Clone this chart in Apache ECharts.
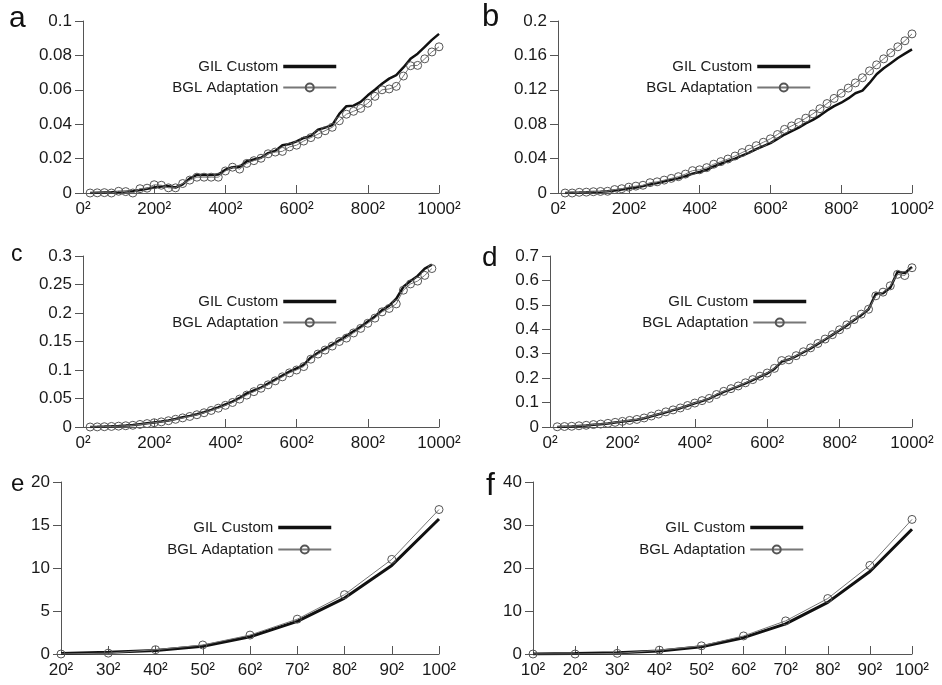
<!DOCTYPE html>
<html>
<head>
<meta charset="utf-8">
<script src="https://cdn.jsdelivr.net/npm/echarts@6/dist/echarts.min.js"></script>
<style>
html,body{margin:0;padding:0;background:#fff;}
#chart{width:942px;height:685px;}
</style>
</head>
<body>
<div id="chart"></div>
<script>
// ---- data ----
const seriesNames = ['GIL Custom', 'BGL Adaptation'];
const panelLetters = ['a', 'b', 'c', 'd', 'e', 'f'];

const sidesA = [20,40,60,80,100,120,140,160,180,200,220,240,260,280,300,320,340,360,380,400,420,440,460,480,500,520,540,560,580,600,620,640,660,680,700,720,740,760,780,800,820,840,860,880,900,920,940,960,980,1000];
const sidesB = sidesA;
const sidesC = [20,40,60,80,100,120,140,160,180,200,220,240,260,280,300,320,340,360,380,400,420,440,460,480,500,520,540,560,580,600,620,640,660,680,700,720,740,760,780,800,820,840,860,880,900,920,940,960,980];
const sidesD = sidesA;
const sidesE = [20,30,40,50,60,70,80,90,100];
const sidesF = [10,20,30,40,50,60,70,80,90,100];

const gilA = [0.0000,0.0002,0.0003,0.0004,0.0006,0.0008,0.0010,0.0018,0.0025,0.0032,0.0038,0.0040,0.0032,0.0050,0.0085,0.0105,0.0105,0.0105,0.0108,0.0135,0.0150,0.0153,0.0185,0.0195,0.0205,0.0232,0.0245,0.0278,0.0285,0.0300,0.0320,0.0332,0.0368,0.0380,0.0395,0.0460,0.0505,0.0508,0.0530,0.0568,0.0600,0.0635,0.0665,0.0685,0.0730,0.0780,0.0810,0.0850,0.0890,0.0925];
const bglA = [0.0000,0.0001,0.0002,0.0000,0.0010,0.0008,0.0000,0.0025,0.0028,0.0048,0.0045,0.0030,0.0030,0.0055,0.0075,0.0092,0.0092,0.0092,0.0092,0.0128,0.0150,0.0139,0.0172,0.0188,0.0202,0.0228,0.0238,0.0242,0.0268,0.0278,0.0302,0.0322,0.0342,0.0362,0.0382,0.0420,0.0458,0.0475,0.0492,0.0522,0.0562,0.0600,0.0605,0.0620,0.0680,0.0740,0.0742,0.0780,0.0820,0.0850];

const gilB = [0.0000,0.0003,0.0005,0.0008,0.0012,0.0015,0.0020,0.0030,0.0040,0.0055,0.0065,0.0080,0.0100,0.0115,0.0135,0.0155,0.0170,0.0195,0.0225,0.0245,0.0270,0.0310,0.0340,0.0370,0.0400,0.0435,0.0470,0.0510,0.0545,0.0580,0.0630,0.0680,0.0720,0.0760,0.0810,0.0850,0.0900,0.0960,0.1010,0.1050,0.1100,0.1160,0.1190,0.1280,0.1380,0.1450,0.1510,0.1570,0.1620,0.1670];
const bglB = [0.0000,0.0000,0.0008,0.0010,0.0015,0.0018,0.0020,0.0040,0.0050,0.0068,0.0080,0.0090,0.0120,0.0130,0.0150,0.0170,0.0190,0.0220,0.0260,0.0270,0.0295,0.0335,0.0365,0.0395,0.0430,0.0470,0.0510,0.0550,0.0590,0.0630,0.0680,0.0740,0.0780,0.0820,0.0870,0.0920,0.0980,0.1040,0.1100,0.1160,0.1220,0.1280,0.1340,0.1420,0.1490,0.1560,0.1630,0.1700,0.1770,0.1850];

const gilC = [0.0000,0.0003,0.0007,0.0012,0.0018,0.0025,0.0035,0.0050,0.0065,0.0080,0.0095,0.0115,0.0140,0.0170,0.0195,0.0225,0.0260,0.0300,0.0345,0.0395,0.0445,0.0510,0.0590,0.0640,0.0690,0.0760,0.0830,0.0900,0.0970,0.1030,0.1090,0.1220,0.1300,0.1370,0.1440,0.1520,0.1600,0.1680,0.1760,0.1850,0.1940,0.2050,0.2130,0.2250,0.2460,0.2560,0.2650,0.2780,0.2850];
const bglC = [0.0000,0.0002,0.0005,0.0010,0.0015,0.0022,0.0030,0.0045,0.0060,0.0075,0.0090,0.0110,0.0135,0.0160,0.0185,0.0215,0.0250,0.0290,0.0330,0.0380,0.0430,0.0490,0.0560,0.0620,0.0680,0.0740,0.0810,0.0880,0.0950,0.1000,0.1060,0.1190,0.1280,0.1350,0.1420,0.1500,0.1560,0.1650,0.1730,0.1820,0.1910,0.2020,0.2080,0.2160,0.2400,0.2510,0.2560,0.2660,0.2780];

const gilD = [0.000,0.001,0.002,0.004,0.006,0.009,0.011,0.014,0.018,0.022,0.026,0.030,0.036,0.044,0.052,0.060,0.069,0.077,0.087,0.097,0.106,0.116,0.131,0.144,0.155,0.166,0.179,0.192,0.206,0.219,0.238,0.268,0.276,0.290,0.306,0.322,0.340,0.358,0.377,0.396,0.416,0.438,0.458,0.482,0.545,0.548,0.570,0.635,0.630,0.655];
const bglD = [0.001,0.002,0.003,0.005,0.007,0.010,0.012,0.015,0.019,0.023,0.027,0.031,0.037,0.045,0.053,0.062,0.070,0.078,0.088,0.098,0.108,0.117,0.133,0.146,0.157,0.168,0.181,0.194,0.208,0.221,0.240,0.272,0.275,0.292,0.308,0.324,0.342,0.360,0.378,0.398,0.418,0.440,0.462,0.482,0.537,0.552,0.578,0.625,0.620,0.652];

const gilE = [0.05,0.2,0.4,0.9,2.0,3.8,6.5,10.3,15.7];
const bglE = [0.0,0.1,0.5,1.05,2.2,4.05,6.9,11.0,16.8];

const gilF = [0.02,0.1,0.3,0.7,1.7,3.8,7.0,12.0,19.2,29.0];
const bglF = [0.0,0.0,0.15,0.9,1.9,4.2,7.7,12.9,20.6,31.3];

// axis ranges (min, max, interval)
const xRanges = [[0,1000,200],[0,1000,200],[0,1000,200],[0,1000,200],[20,100,10],[10,100,10]];
const yRanges = [[0,0.1,0.02],[0,0.2,0.04],[0,0.3,0.05],[0,0.7,0.1],[0,20,5],[0,40,10]];

// ---- layout ----
const FONT = "'Liberation Sans', Arial, Helvetica, sans-serif";
const grids = [
  {left:83, top:21, width:356, height:172},
  {left:558, top:21, width:354, height:172},
  {left:83, top:256, width:356, height:171},
  {left:550, top:256, width:362, height:171},
  {left:61, top:482, width:378, height:172},
  {left:533, top:482, width:379, height:172}
];
const legendPos = [
  {right:604, top:59, gap:6},
  {right:130, top:59, gap:6},
  {right:604, top:294, gap:6},
  {right:134, top:294, gap:6},
  {right:609, top:520, gap:7},
  {right:137, top:520, gap:7}
];
const letterPos = [
  {left:9, top:3.6, size:30},
  {left:482, top:1.8, size:31},
  {left:11, top:243.5, size:23},
  {left:482, top:244.3, size:28},
  {left:11, top:472.7, size:24},
  {left:486, top:469.9, size:32}
];

const sides = [sidesA, sidesB, sidesC, sidesD, sidesE, sidesF];
const gil = [gilA, gilB, gilC, gilD, gilE, gilF];
const bgl = [bglA, bglB, bglC, bglD, bglE, bglF];

function pairs(xs, ys) { return xs.map((x, i) => [x, ys[i]]); }

const option = {
  animation: false,
  backgroundColor: '#fff',
  grid: grids.map(g => Object.assign({containLabel:false}, g)),
  xAxis: xRanges.map((r, i) => ({
    type: 'value', gridIndex: i, min: r[0], max: r[1], interval: r[2],
    axisLine: {show: true, onZero: false, lineStyle: {color: '#555', width: 1}},
    axisTick: {show: true, inside: true, length: 8, lineStyle: {color: '#555'}},
    splitLine: {show: false},
    axisLabel: {
      color: '#1a1a1a', fontSize: 17, fontFamily: FONT, margin: 8,
      showMinLabel: true, showMaxLabel: true,
      formatter: v => v + '\u00B2'
    }
  })),
  yAxis: yRanges.map((r, i) => ({
    type: 'value', gridIndex: i, min: r[0], max: r[1], interval: r[2],
    axisLine: {show: true, lineStyle: {color: '#555', width: 1}},
    axisTick: {show: true, inside: false, length: 8, lineStyle: {color: '#555'}},
    splitLine: {show: false},
    axisLabel: {color: '#1a1a1a', fontSize: 17, fontFamily: FONT, margin: 11}
  })),
  legend: legendPos.map(p => ({
    orient: 'vertical', align: 'right', right: p.right, top: p.top,
    padding: 0,
    itemWidth: 53, itemHeight: 10, itemGap: p.gap,
    selectedMode: false,
    textStyle: {fontSize: 15, color: '#1a1a1a', fontFamily: FONT},
    data: [
      {name: seriesNames[0], lineStyle: {width: 3.5, color: '#111'}, itemStyle: {color: 'rgba(0,0,0,0)', borderColor: 'rgba(0,0,0,0)', borderWidth: 0, opacity: 0}},
      {name: seriesNames[1]}
    ]
  })),
  graphic: letterPos.map((p, i) => ({
    type: 'text', left: p.left, top: p.top,
    style: {text: panelLetters[i], font: p.size + 'px ' + FONT, fill: '#111'}
  })),
  series: []
};

for (let i = 0; i < 6; i++) {
  option.series.push({
    name: seriesNames[0], type: 'line', xAxisIndex: i, yAxisIndex: i,
    data: pairs(sides[i], gil[i]),
    symbol: 'none', showSymbol: false,
    lineStyle: {color: '#111', width: i >= 4 ? 3 : 2.5},
    itemStyle: {color: '#111'},
    z: 2
  });
  option.series.push({
    name: seriesNames[1], type: 'line', xAxisIndex: i, yAxisIndex: i,
    data: pairs(sides[i], bgl[i]),
    symbol: 'circle', symbolSize: 8, showSymbol: true,
    lineStyle: {color: '#777', width: 1},
    itemStyle: {color: 'rgba(255,255,255,0)', borderColor: '#555', borderWidth: 1},
    z: 3
  });
}

const chart = echarts.init(document.getElementById('chart'), null, {renderer: 'canvas'});
chart.setOption(option);
</script>
</body>
</html>
